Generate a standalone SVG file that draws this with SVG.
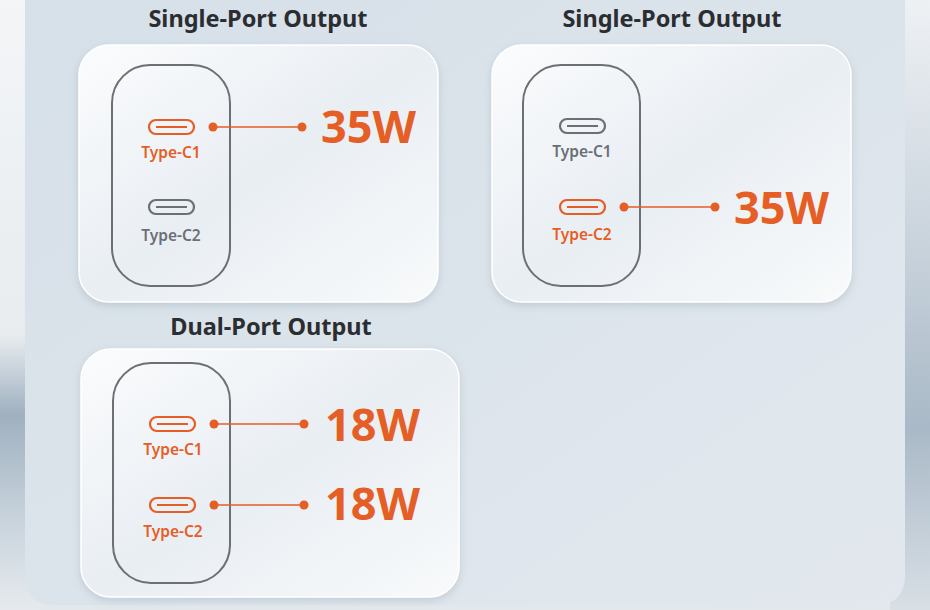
<svg xmlns="http://www.w3.org/2000/svg" width="930" height="610" viewBox="0 0 930 610">
<defs>
<linearGradient id="outerL" x1="0" y1="0" x2="0" y2="1"><stop offset="0" stop-color="#f3f5f7"/><stop offset="0.55" stop-color="#e8ecef"/><stop offset="0.68" stop-color="#9fb0c0"/><stop offset="0.85" stop-color="#c8d3dc"/><stop offset="1" stop-color="#e6eaee"/></linearGradient>
<linearGradient id="outerR" x1="0" y1="0" x2="0" y2="1"><stop offset="0" stop-color="#eef1f4"/><stop offset="0.4" stop-color="#c9d3dc"/><stop offset="0.7" stop-color="#a9b9c7"/><stop offset="1" stop-color="#d8dfe5"/></linearGradient>
<linearGradient id="bg" x1="0" y1="0" x2="1" y2="1"><stop offset="0" stop-color="#d6e0e8"/><stop offset="1" stop-color="#e2e8ee"/></linearGradient>
<linearGradient id="card" x1="0" y1="0" x2="1" y2="1"><stop offset="0" stop-color="#fbfcfd"/><stop offset="0.5" stop-color="#e9eef3"/><stop offset="1" stop-color="#f8fafb"/></linearGradient>
<filter id="sh" x="-10%" y="-10%" width="120%" height="125%"><feDropShadow dx="0" dy="3" stdDeviation="4" flood-color="#8a9aa8" flood-opacity="0.35"/></filter>
</defs>
<style>
.title{font-family:"Noto Sans","Open Sans",sans-serif;font-weight:700;font-size:23.5px;fill:#2b2d31;text-anchor:middle}
.card{fill:url(#card);stroke:#ffffff;stroke-width:1.5}
.body{fill:none;stroke:#6b6f76;stroke-width:2}
.port-on{fill:none;stroke:#e55e26;stroke-width:2.2}
.port-off{fill:none;stroke:#6b6f76;stroke-width:2.2}
.lbl-on{font-family:"Noto Sans","Open Sans",sans-serif;font-weight:600;font-size:15.5px;fill:#e55e26;text-anchor:middle}
.lbl-off{font-family:"Noto Sans","Open Sans",sans-serif;font-weight:600;font-size:15.5px;fill:#6b6f76;text-anchor:middle}
.watt{font-family:"Noto Sans","Open Sans",sans-serif;font-weight:700;font-size:45px;fill:#e55e26}
.line{stroke:#e55e26;stroke-width:1.3}
.dot{fill:#e55e26}
</style>
<rect x="0" y="0" width="930" height="610" fill="#e3e8ec"/>
<rect x="0" y="0" width="40" height="610" fill="url(#outerL)"/>
<rect x="890" y="0" width="40" height="610" fill="url(#outerR)"/>
<path d="M25 -10 H905 V575 Q905 605 875 605 H55 Q25 605 25 575 Z" fill="url(#bg)"/>

<g id="title1"><text class="title" x="258" y="27">Single-Port Output</text></g>
<g id="title2"><text class="title" x="672" y="27">Single-Port Output</text></g>
<g id="title3"><text class="title" x="271" y="335">Dual-Port Output</text></g>

<g id="panel1">
<rect class="card" x="79" y="45" width="359" height="257" rx="30" filter="url(#sh)"/>
<rect class="body" x="112" y="65" width="118" height="221" rx="38"/>
<rect class="port-on" x="149" y="120" width="45" height="14" rx="7"/>
<line x1="156" y1="127" x2="187" y2="127" stroke="#e55e26" stroke-width="2"/>
<text class="lbl-on" x="171" y="158">Type-C1</text>
<rect class="port-off" x="149" y="200" width="45" height="14" rx="7"/>
<line x1="156" y1="207" x2="187" y2="207" stroke="#6b6f76" stroke-width="2"/>
<text class="lbl-off" x="171" y="241">Type-C2</text>
<text class="watt" x="321" y="143">35W</text>
</g>

<g id="panel2">
<rect class="card" x="492" y="45" width="359" height="257" rx="30" filter="url(#sh)"/>
<rect class="body" x="523" y="65" width="117" height="221" rx="38"/>
<rect class="port-off" x="560" y="119" width="45" height="14" rx="7"/>
<line x1="567" y1="126" x2="598" y2="126" stroke="#6b6f76" stroke-width="2"/>
<text class="lbl-off" x="582" y="157">Type-C1</text>
<rect class="port-on" x="560" y="200" width="45" height="14" rx="7"/>
<line x1="567" y1="207" x2="598" y2="207" stroke="#e55e26" stroke-width="2"/>
<text class="lbl-on" x="582" y="240">Type-C2</text>
<text class="watt" x="734" y="224">35W</text>
</g>

<g id="panel3">
<rect class="card" x="81" y="349" width="378" height="248" rx="30" filter="url(#sh)"/>
<rect class="body" x="113" y="363" width="117" height="220" rx="38"/>
<rect class="port-on" x="150" y="417" width="45" height="14" rx="7"/>
<line x1="157" y1="424" x2="188" y2="424" stroke="#e55e26" stroke-width="2"/>
<text class="lbl-on" x="173" y="455">Type-C1</text>
<rect class="port-on" x="150" y="498" width="45" height="14" rx="7"/>
<line x1="157" y1="505" x2="188" y2="505" stroke="#e55e26" stroke-width="2"/>
<text class="lbl-on" x="173" y="537">Type-C2</text>
<text class="watt" x="325" y="441">18W</text>
<text class="watt" x="325" y="520">18W</text>
</g>

<g id="connectors">
<line class="line" x1="213" y1="127" x2="302" y2="127"/><circle class="dot" cx="213" cy="127" r="4.5"/><circle class="dot" cx="302" cy="127" r="4.5"/>
<line class="line" x1="624" y1="207" x2="715" y2="207"/><circle class="dot" cx="624" cy="207" r="4.5"/><circle class="dot" cx="715" cy="207" r="4.5"/>
<line class="line" x1="214" y1="424" x2="304" y2="424"/><circle class="dot" cx="214" cy="424" r="4.5"/><circle class="dot" cx="304" cy="424" r="4.5"/>
<line class="line" x1="214" y1="505" x2="304" y2="505"/><circle class="dot" cx="214" cy="505" r="4.5"/><circle class="dot" cx="304" cy="505" r="4.5"/>
</g>
</svg>
